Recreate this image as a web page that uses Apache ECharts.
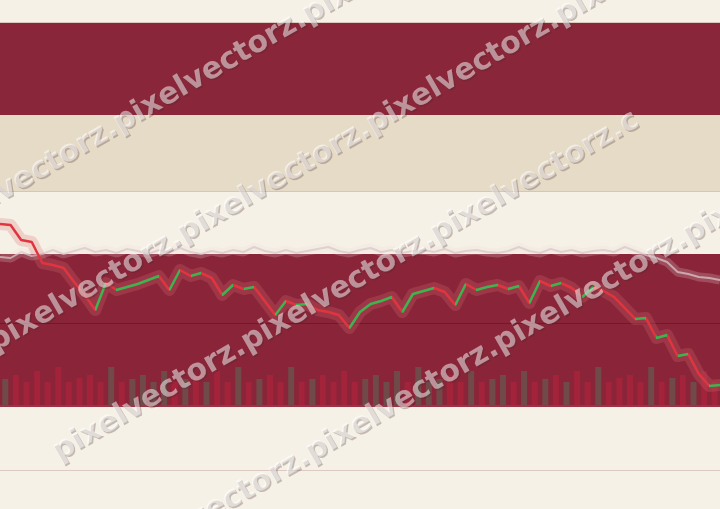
<!DOCTYPE html>
<html><head><meta charset="utf-8">
<script src="https://cdn.jsdelivr.net/npm/echarts@6/dist/echarts.min.js"></script>
<style>html,body{margin:0;padding:0;background:#f6f1e6}#c{width:720px;height:509px}</style>
</head><body><div id="c"></div>
<script>
// ---- data ----
const categories = Array.from({length: 69}, (_, i) => 'P' + (i + 1));
const price = [176,175,160,158,137,135,132,118,105,90,
  117,110,113,116,120,124,110,130,124,127,
  122,105,115,111,113,99,85,99,95,96,
  90,88,85,72,88,96,99,103,88,106,
  109,112,108,95,116,110,113,115,111,114,
  97,119,114,117,112,103,113,109,103,92,
  81,82,62,65,44,46,26,14,15];
const benchmark = [143,142,148,144,146,150,146,149,152,148,
  150,147,151,149,146,150,148,152,148,146,
  149,147,150,148,153,149,147,150,147,149,
  151,153,149,147,150,152,148,150,147,149,
  150,148,151,147,149,150,148,147,149,153,
  149,147,151,148,150,147,149,150,148,153,
  149,145,142,138,128,126,123,122,120];
const volumeCats = Array.from({length: 68}, (_, i) => 'V' + (i + 1));
const volume = [26,30,23,34,23,38,23,27,30,23,
  38,23,26,30,23,34,23,26,29,23,
  34,23,38,23,26,30,23,38,23,26,
  30,23,34,23,26,30,23,34,23,38,
  23,26,30,23,34,23,26,30,23,34,
  23,26,30,23,34,23,38,23,27,30,
  23,38,23,27,30,23,34,23];
const referenceLevel = 77;
const watermarkRows = [
  'pixelvectorz.pixelvectorz.pixelvectorz.pixelvectorz.',
  'pixelvectorz.pixelvectorz.pixelvectorz.pixelvectorz.',
  'pixelvectorz.pixelvectorz.pixelvectorz.c',
  'pixelvectorz.pixelvectorz.pixelvectorz.pixelvectorz.'
];

// ---- styles ----
const UP = '#3fb34f', DOWN = '#e0343e';
const BAR_UP = '#6f4a49', BAR_DOWN = '#a2233a';

const pieces = [];
for (let i = 0; i < price.length - 1; i++) {
  const up = price[i + 1] >= price[i];
  const p = i === 0 ? {gte: i, lte: i + 1} : {gt: i, lte: i + 1};
  p.color = up ? UP : DOWN;
  pieces.push(p);
}
const barData = volume.map((v, k) => ({
  value: v,
  itemStyle: {color: (k === 0 || price[k] >= price[k - 1]) ? BAR_UP : BAR_DOWN}
}));

const bands = [
  {y: 22, h: 1, c: '#dccbbd'},
  {y: 23, h: 92, c: '#8a2639'},
  {y: 115, h: 77, c: '#e6dbc6'},
  {y: 191, h: 1, c: '#d8c5b6'},
  {y: 254, h: 153, c: '#8a2539'},
  {y: 405, h: 2, c: '#9a3346'},
  {y: 470, h: 1, c: '#dccac2'}
];
const graphics = bands.map(b => ({type: 'rect', z: 0, silent: true,
  shape: {x: 0, y: b.y, width: 720, height: b.h}, style: {fill: b.c}}));
const wmPos = [[-73, 235], [-9, 345], [55, 454], [119, 564]];
wmPos.forEach(([x, y], r) => {
  graphics.push({type: 'text', x: x + 1.5, y: y + 1.5, rotation: Math.PI / 6, z: 50, silent: true,
    style: {text: watermarkRows[r], font: 'bold 30px "DejaVu Sans"', fill: 'rgba(70,40,40,0.28)', align: 'left', verticalAlign: 'middle'}});
  graphics.push({type: 'text', x: x, y: y, rotation: Math.PI / 6, z: 51, silent: true,
    style: {text: watermarkRows[r], font: 'bold 30px "DejaVu Sans"', fill: 'rgba(255,255,255,0.5)', align: 'left', verticalAlign: 'middle'}});
});

const chart = echarts.init(document.getElementById('c'), null, {renderer: 'canvas'});
chart.setOption({
  animation: false,
  backgroundColor: '#f6f1e6',
  graphic: {elements: graphics},
  grid: [
    {left: -1, right: 0, top: 200, height: 200},
    {left: -1, right: 0, top: 305, height: 100}
  ],
  xAxis: [
    {type: 'category', gridIndex: 0, data: categories, boundaryGap: false, show: false},
    {type: 'category', gridIndex: 1, data: volumeCats, boundaryGap: true, show: false}
  ],
  yAxis: [
    {type: 'value', gridIndex: 0, min: 0, max: 200, show: false, splitLine: {show: false}},
    {type: 'value', gridIndex: 1, min: 0, max: 100, show: false, splitLine: {show: false}}
  ],
  visualMap: {show: false, seriesIndex: 4, dimension: 0, pieces: pieces},
  series: [
    {type: 'bar', xAxisIndex: 1, yAxisIndex: 1, data: barData, barWidth: 6, z: 2, silent: true},
    {type: 'line', data: benchmark, symbol: 'none', z: 3, silent: true,
      lineStyle: {width: 9, color: 'rgba(235,220,220,0.22)'},
      markLine: {silent: true, symbol: 'none', label: {show: false},
        lineStyle: {color: 'rgba(90,20,35,0.6)', width: 1, type: 'solid'},
        data: [{yAxis: referenceLevel}]}},
    {type: 'line', data: benchmark, symbol: 'none', z: 4, silent: true,
      lineStyle: {width: 2, color: 'rgba(215,200,200,0.75)'}},
    {type: 'line', data: price, symbol: 'none', z: 5, silent: true,
      lineStyle: {width: 12, color: 'rgba(215,110,115,0.25)', cap: 'round', join: 'round'}},
    {type: 'line', data: price, symbol: 'none', z: 6, silent: true,
      lineStyle: {width: 2.5}}
  ]
});
</script></body></html>
